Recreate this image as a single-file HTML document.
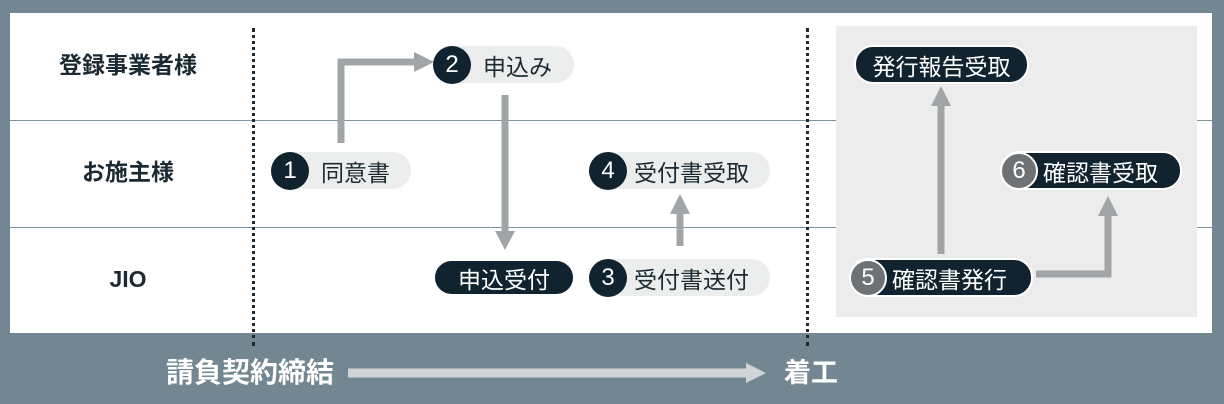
<!DOCTYPE html>
<html><head><meta charset="utf-8"><style>
body{margin:0;width:1224px;height:404px;background:#728791;position:relative;overflow:hidden;font-family:"Liberation Sans","Noto Sans CJK JP",sans-serif;}
.abs{position:absolute}
.pill{position:absolute;height:37px;border-radius:19px;box-sizing:border-box;display:flex;align-items:center;font-size:23px;color:#1b2a33;background:#eceeed;white-space:nowrap}
.dark{background:#10232e;color:#fff;border:2px solid #fff}
.num{width:38px;height:38px;border-radius:50%;background:#10232e;color:#fff;display:flex;align-items:center;justify-content:center;font-size:24px;margin-left:0;flex:none}
.gnum{background:#6f7275;border:2px solid #fff;box-sizing:border-box}
.lane{position:absolute;left:0;width:256px;text-align:center;font-weight:bold;font-size:23px;color:#1b2a33;line-height:1}
</style></head><body>
<div class="abs" style="left:10px;top:13px;width:1202px;height:320px;background:#fff"></div>
<div class="abs" style="left:836px;top:26px;width:361px;height:291px;background:#ebeceb"></div>
<div class="abs" style="left:10px;top:120px;width:826px;height:1px;background:#7f929b"></div>
<div class="abs" style="left:1197px;top:120px;width:15px;height:1px;background:#7f929b"></div>
<div class="abs" style="left:10px;top:227px;width:826px;height:1px;background:#7f929b"></div>
<div class="abs" style="left:1197px;top:227px;width:15px;height:1px;background:#7f929b"></div>
<div class="abs" style="left:252px;top:28px;height:318px;border-left:3px dotted #1b2a33"></div>
<div class="abs" style="left:806px;top:28px;height:318px;border-left:3px dotted #1b2a33"></div>
<div class="lane" style="top:54px">登録事業者様</div>
<div class="lane" style="top:161px">お施主様</div>
<div class="lane" style="top:268px">JIO</div>
<svg class="abs" style="left:0;top:0" width="1224" height="404">
<g fill="none" stroke="#a2a5a7" stroke-width="7">
<path d="M341 143 V62 H416"/>
<path d="M505 95 V233"/>
<path d="M680 246 V212"/>
<path d="M941 254 V104"/>
<path d="M1036 274 H1108 V214"/>
</g>
<g fill="#a2a5a7">
<polygon points="414,52 434,62 414,72"/>
<polygon points="495,231 505,250 515,231"/>
<polygon points="670,214 680,194 690,214"/>
<polygon points="931,106 941,86 951,106"/>
<polygon points="1098,216 1108,196 1118,216"/>
</g>
<path d="M348 373 H748" stroke="#d1d4d6" stroke-width="9"/>
<polygon points="746,363 766,373 746,383" fill="#d1d4d6"/>
</svg>
<div class="pill" style="left:271px;top:152px;width:140px"><div class="num">1</div><span style="margin-left:12px">同意書</span></div>
<div class="pill" style="left:433px;top:46px;width:141px"><div class="num">2</div><span style="margin-left:12px">申込み</span></div>
<div class="pill dark" style="left:433px;top:259px;width:142px;justify-content:center">申込受付</div>
<div class="pill" style="left:589px;top:259px;width:181px"><div class="num">3</div><span style="margin-left:7px">受付書送付</span></div>
<div class="pill" style="left:589px;top:152px;width:181px"><div class="num">4</div><span style="margin-left:7px">受付書受取</span></div>
<div class="pill dark" style="left:854px;top:45px;width:175px;height:39px;justify-content:center">発行報告受取</div>
<div class="pill dark" style="left:1000px;top:151px;width:182px;height:39px"><div class="num gnum" style="margin-left:-2px">6</div><span style="margin-left:5px">確認書受取</span></div>
<div class="pill dark" style="left:849px;top:258px;width:184px;height:39px"><div class="num gnum" style="margin-left:-2px">5</div><span style="margin-left:5px">確認書発行</span></div>
<div class="abs" style="left:166px;top:356px;font-size:28px;line-height:34px;font-weight:bold;color:#fff">請負契約締結</div>
<div class="abs" style="left:784px;top:356px;font-size:27px;line-height:34px;font-weight:bold;color:#fff">着工</div>
</body></html>
